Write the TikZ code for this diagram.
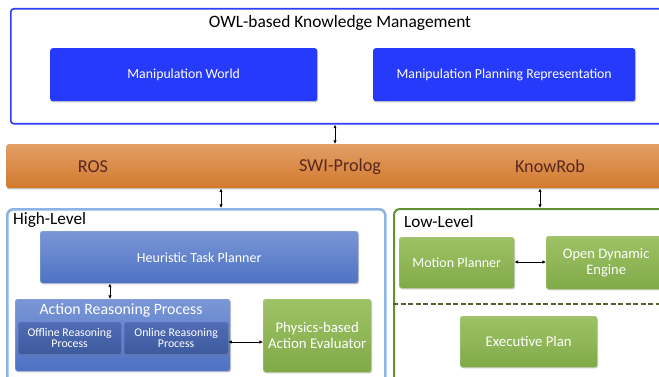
\documentclass[tikz,border=0pt]{standalone}
\usepackage{fontspec}
\setmainfont{Carlito}
\usetikzlibrary{arrows.meta,shadows}
\definecolor{owlblue}{RGB}{45,62,245}
\definecolor{boxblue}{RGB}{38,58,252}
\definecolor{orTop}{RGB}{226,158,100}
\definecolor{orBot}{RGB}{210,122,46}
\definecolor{orText}{RGB}{90,40,32}
\definecolor{hlBorder}{RGB}{141,179,226}
\definecolor{bTop}{RGB}{122,150,214}
\definecolor{bBot}{RGB}{78,114,195}
\definecolor{dTop}{RGB}{80,108,180}
\definecolor{dBot}{RGB}{62,90,158}
\definecolor{gTop}{RGB}{158,194,102}
\definecolor{gBot}{RGB}{128,170,72}
\definecolor{llBorder}{RGB}{96,146,52}
\definecolor{dashGreen}{RGB}{80,98,50}
\tikzset{
  fs/.style={font=\fontsize{#1}{#1}\selectfont},
  sh/.style={drop shadow={shadow xshift=0.8pt,shadow yshift=-1.2pt,opacity=0.35,fill=black!60}},
  solidbox/.style={anchor=north west,rounded corners=2.5pt,fill=boxblue,text=white,sh,fs=13.8,inner sep=0pt},
  bluebox/.style={anchor=north west,rounded corners=2.5pt,top color=bTop,bottom color=bBot,draw=bTop!80!white,line width=0.4pt,text=white,sh,inner sep=0pt},
  darkbox/.style={anchor=north west,rounded corners=2pt,top color=dTop,bottom color=dBot,draw=dTop!85!white,line width=0.3pt,text=white,sh,inner sep=0pt,align=center,fs=11.8},
  greenbox/.style={anchor=north west,rounded corners=2.5pt,top color=gTop,bottom color=gBot,draw=gTop!85!white,line width=0.4pt,text=white,sh,inner sep=0pt,align=center,fs=14},
  arr/.style={{Latex[length=3.6pt,width=3.4pt]}-{Latex[length=3.6pt,width=3.4pt]},line width=0.8pt,black},
  lbl/.style={inner sep=0pt}
}
\begin{document}
\begin{tikzpicture}[x=1pt,y=-1pt]
\useasboundingbox (0,0) rectangle (659,377);
\clip (0,0) rectangle (659,377);
% top knowledge box
\node[anchor=north west,draw=owlblue,line width=1.6pt,rounded corners=3pt,minimum width=700pt,minimum height=115pt,inner sep=0pt] (owl) at (10,8) {};
\node[lbl,fs=17.4] (owltitle) at (340,23) {OWL-based Knowledge Management};
\node[solidbox,minimum width=267pt,minimum height=53pt] (mw) at (50,48) {Manipulation World};
\node[solidbox,minimum width=262pt,minimum height=53pt] (mpr) at (373,48) {Manipulation Planning Representation};
% orange bar
\node[anchor=north west,top color=orTop,bottom color=orBot,rounded corners=2.5pt,minimum width=700pt,minimum height=44pt,inner sep=0pt,sh] (bar) at (6,144) {};
\node[lbl,fs=18.2,text=orText] (ros) at (93,167) {ROS};
\node[lbl,fs=18.2,text=orText] (swi) at (340,167) {SWI-Prolog};
\node[lbl,fs=18.2,text=orText] (kr) at (550,166) {KnowRob};
% high level
\node[anchor=north west,draw=hlBorder,line width=2.6pt,rounded corners=6pt,minimum width=378pt,minimum height=200pt,inner sep=0pt] (hl) at (6,208) {};
\node[lbl,anchor=west,fs=17.2] (hltitle) at (13,220) {High-Level};
\node[bluebox,minimum width=318pt,minimum height=52pt,fs=14] (htp) at (40,231) {Heuristic Task Planner};
\node[bluebox,minimum width=215pt,minimum height=72pt] (arp) at (15,299) {};
\node[lbl,fs=15.8,text=white] (arptitle) at (121,310) {Action Reasoning Process};
\node[darkbox,minimum width=103pt,minimum height=32pt] (off) at (18,322) {Offline Reasoning\\[-1pt]Process};
\node[darkbox,minimum width=104pt,minimum height=32pt] (on) at (124,322) {Online Reasoning\\[-1pt]Process};
\node[greenbox,minimum width=108pt,minimum height=73pt,fs=14.8] (pae) at (263,299) {Physics-based\\[1pt]Action Evaluator};
% low level
\node[anchor=north west,draw=llBorder,line width=2pt,rounded corners=6pt,minimum width=320pt,minimum height=200pt,inner sep=0pt] (ll) at (393,208) {};
\node[lbl,anchor=west,fs=17.2] (lltitle) at (404,222) {Low-Level};
\node[greenbox,minimum width=115pt,minimum height=51pt] (mp) at (399,237) {Motion Planner};
\node[greenbox,minimum width=120pt,minimum height=53pt,fs=14.5] (ode) at (546,236) {Open Dynamic\\[1pt]Engine};
\node[greenbox,minimum width=137pt,minimum height=51pt,fs=14.8] (ep) at (460,316) {Executive Plan};
\coordinate (dashL) at (ll.west |- 0,304);
\coordinate (dashR) at (ll.east |- 0,304);
\draw[dashGreen,dashed,dash pattern=on 5pt off 2.5pt,line width=1.2pt] (dashL) -- (dashR);
% connectors
\draw[arr] (335,0 |- owl.south) -- (335,0 |- bar.north);
\draw[arr] (221,0 |- bar.south) -- (221,0 |- hl.north);
\draw[arr] (540,0 |- bar.south) -- (540,0 |- ll.north);
\draw[arr] (110,0 |- htp.south) -- (110,0 |- arp.north);
\draw[arr] (on.east |- 0,342) -- (pae.west |- 0,342);
\draw[arr] (mp.east |- 0,262) -- (ode.west |- 0,262);
\end{tikzpicture}
\end{document}
